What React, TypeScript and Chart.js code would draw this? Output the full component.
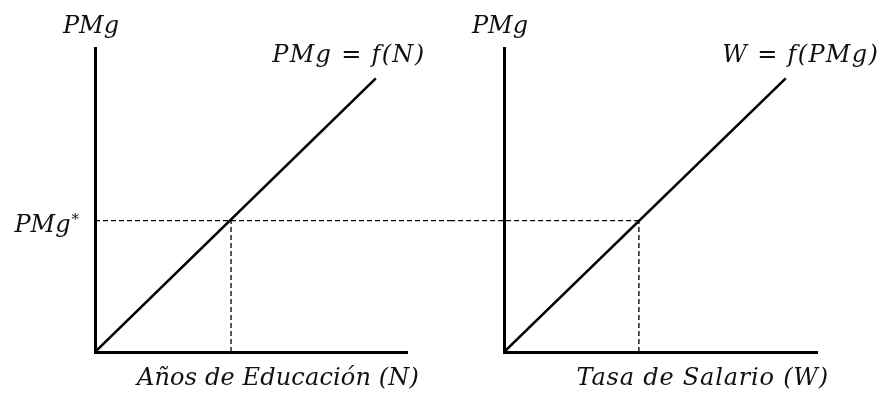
import React, { useEffect, useRef } from 'react';
import { Chart, registerables } from 'chart.js';

Chart.register(...registerables);

// ---- data (axis units, both panels share the same 0..10 scale) ----
const AXIS_MAX = 10;
const LEFT_N = [0, 9];          // Años de Educación
const LEFT_PMG = [0, 9];        // PMg = f(N)
const RIGHT_W = [0, 9];         // Tasa de Salario
const RIGHT_PMG = [0, 9];       // W = f(PMg)
const PMG_STAR = 4.32;
const N_STAR = 4.36;
const W_STAR = 4.31;
const GUIDE_LEFT_END = 14;      // horizontal guide runs on into the right panel
const GUIDE_RIGHT_START = -3;

// ---- texts ----
const Y_TITLE = 'PMg';
const Y_TICK_LABEL = 'PMg';
const Y_TICK_MARK = '*';
const LEFT_X_TITLE = 'Años de Educación (N)';
const RIGHT_X_TITLE = 'Tasa de Salario (W)';
const LEFT_CURVE_LABEL = 'PMg = f(N)';
const RIGHT_CURVE_LABEL = 'W = f(PMg)';

const FONT_FAMILY = '"DejaVu Serif", serif';
const FONT_SIZE = 24;
const TEXT_COLOR = '#111111';

type LabelOpts = {
  xTitle: string;
  xTitleSpacing: number;
  curveLabel: string;
  curveDx: number;
  curveDy: number;
  showStar: boolean;
};

const labelPlugin = {
  id: 'econLabels',
  afterDraw(chart: any, _args: any, opts: LabelOpts) {
    const { ctx, chartArea } = chart;
    const xs = chart.scales.x;
    const ys = chart.scales.y;
    ctx.save();
    ctx.fillStyle = TEXT_COLOR;
    ctx.font = `italic ${FONT_SIZE}px ${FONT_FAMILY}`;
    ctx.textBaseline = 'alphabetic';
    // y axis name
    ctx.textAlign = 'center';
    ctx.fillText(Y_TITLE, chartArea.left - 4, chartArea.top - 15);
    // y value label PMg*
    if (opts.showStar) {
      const yPix = ys.getPixelForValue(PMG_STAR);
      ctx.font = `italic 15px ${FONT_FAMILY}`;
      ctx.textAlign = 'right';
      ctx.fillText(Y_TICK_MARK, chartArea.left - 16, yPix + 3);
      const starW = ctx.measureText(Y_TICK_MARK).width;
      ctx.font = `italic ${FONT_SIZE}px ${FONT_FAMILY}`;
      ctx.fillText(Y_TICK_LABEL, chartArea.left - 17 - starW, yPix + 11);
    }
    // x axis name
    ctx.textAlign = 'right';
    (ctx as any).letterSpacing = `${opts.xTitleSpacing}px`;
    ctx.fillText(opts.xTitle, chartArea.right + 12, chartArea.bottom + 33);
    // curve label near the end of the line
    (ctx as any).letterSpacing = '1.3px';
    const ds = chart.data.datasets[0].data;
    const last = ds[ds.length - 1];
    const px = xs.getPixelForValue(last.x);
    const py = ys.getPixelForValue(last.y);
    ctx.textAlign = 'center';
    ctx.fillText(opts.curveLabel, px + opts.curveDx, py + opts.curveDy);
    ctx.restore();
  },
};

function makeConfig(
  xs: number[],
  ys: number[],
  guideH: { x: number; y: number }[],
  guideV: { x: number; y: number }[],
  padRight: number,
  yWidth: number,
  labels: LabelOpts
): any {
  const dashed = {
    borderColor: '#000000',
    borderWidth: 1.3,
    borderDash: [5, 3],
    pointRadius: 0,
    clip: false,
    tension: 0,
  };
  return {
    type: 'line',
    data: {
      datasets: [
        {
          data: xs.map((x, i) => ({ x, y: ys[i] })),
          borderColor: '#000000',
          borderWidth: 2.6,
          pointRadius: 0,
          tension: 0,
        },
        { data: guideH, ...dashed },
        { data: guideV, ...dashed },
      ],
    },
    options: {
      animation: false,
      responsive: false,
      layout: { padding: { top: 48, right: padRight, bottom: 0, left: 0 } },
      plugins: {
        legend: { display: false },
        tooltip: { enabled: false },
        econLabels: labels,
      },
      scales: {
        x: {
          type: 'linear',
          min: 0,
          max: AXIS_MAX,
          grid: { display: false },
          ticks: { display: false },
          border: { display: true, color: '#000000', width: 3 },
          afterFit: (s: any) => {
            s.height = 41;
          },
        },
        y: {
          type: 'linear',
          min: 0,
          max: AXIS_MAX,
          grid: { display: false },
          ticks: { display: false },
          border: { display: true, color: '#000000', width: 3 },
          afterFit: (s: any) => {
            s.width = yWidth;
          },
        },
      },
    },
    plugins: [labelPlugin],
  };
}

function Panel(props: { config: any; left: number; width: number }) {
  const ref = useRef<HTMLCanvasElement | null>(null);
  useEffect(() => {
    if (!ref.current) return;
    const chart = new Chart(ref.current, props.config);
    return () => chart.destroy();
  }, [props.config]);
  return (
    <canvas
      ref={ref}
      width={props.width}
      height={393}
      style={{ position: 'absolute', left: props.left, top: 0, width: props.width, height: 393, display: 'block' }}
    />
  );
}

const leftConfig = makeConfig(
  LEFT_N,
  LEFT_PMG,
  [
    { x: 0, y: PMG_STAR },
    { x: GUIDE_LEFT_END, y: PMG_STAR },
  ],
  [
    { x: N_STAR, y: 0 },
    { x: N_STAR, y: PMG_STAR },
  ],
  43,
  95,
  { xTitle: LEFT_X_TITLE, xTitleSpacing: 0.15, curveLabel: LEFT_CURVE_LABEL, curveDx: -27, curveDy: -16, showStar: true }
);

const rightConfig = makeConfig(
  RIGHT_W,
  RIGHT_PMG,
  [
    { x: GUIDE_RIGHT_START, y: PMG_STAR },
    { x: W_STAR, y: PMG_STAR },
  ],
  [
    { x: W_STAR, y: 0 },
    { x: W_STAR, y: PMG_STAR },
  ],
  65,
  54,
  { xTitle: RIGHT_X_TITLE, xTitleSpacing: 0.8, curveLabel: RIGHT_CURVE_LABEL, curveDx: 15, curveDy: -16, showStar: false }
);

export default function App() {
  return (
    <div style={{ position: 'fixed', left: 0, top: 0, width: 882, height: 393, background: '#ffffff', overflow: 'hidden' }}>
      <Panel config={leftConfig} left={0} width={450} />
      <Panel config={rightConfig} left={450} width={432} />
    </div>
  );
}
